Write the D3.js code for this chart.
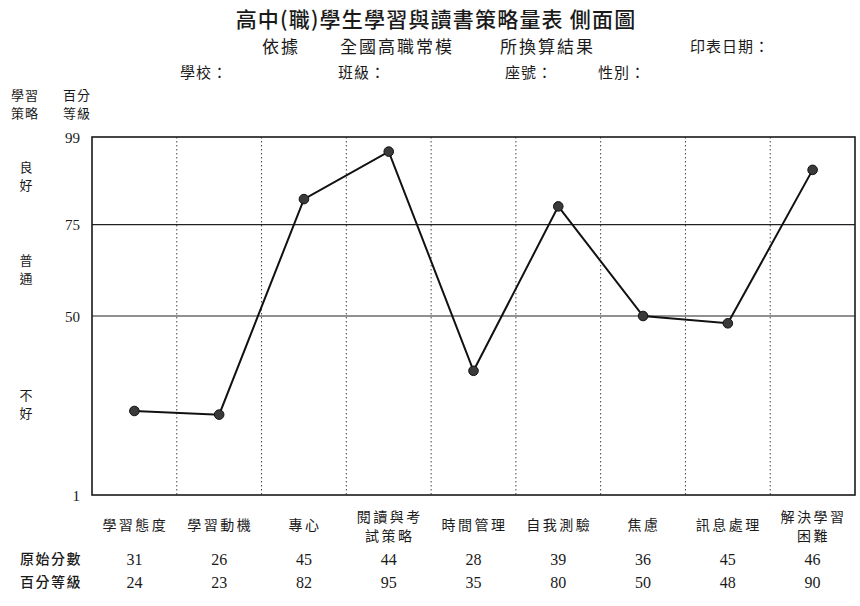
<!DOCTYPE html>
<html><head><meta charset="utf-8">
<script src="https://cdn.jsdelivr.net/npm/d3@7"></script>
<style>
body{margin:0;background:#fff;}
svg{display:block;}
text{fill:#1a1a1a;}
</style></head>
<body><svg id="c" width="860" height="606"></svg>
<script>
const categories = [["學習態度"],["學習動機"],["專心"],["閱讀與考","試策略"],["時間管理"],["自我測驗"],["焦慮"],["訊息處理"],["解決學習","困難"]];
const rawScores = [31,26,45,44,28,39,36,45,46];
const percentiles = [24,23,82,95,35,80,50,48,90];
const yTicks = [99,75,50,1];
const gridLevels = [75,50];
const bandLabels = [{t:["良","好"],v:89.5},{t:["普","通"],v:64},{t:["不","好"],v:27}];

const svg = d3.select("#c");
const cjk = "'Noto Sans CJK TC','Noto Sans CJK SC',sans-serif";
const num = "'Liberation Serif','DejaVu Serif',serif";
const L=92,R=855,T=137,B=495;
const x = d3.scaleBand().domain(d3.range(categories.length)).range([L,R]).padding(0);
const y = d3.scaleLinear().domain([1,99]).range([B,T]);

// titles
svg.append("text").attr("x",436).attr("y",27).attr("text-anchor","middle")
  .style("font-family",cjk).style("font-size","21px").style("font-weight","500").style("letter-spacing","1.2px")
  .text("高中(職)學生學習與讀書策略量表 側面圖");
[["依據",262],["全國高職常模",340],["所換算結果",500]].forEach(d=>{
  svg.append("text").attr("x",d[1]).attr("y",53).style("font-family",cjk).style("font-size","17px").style("letter-spacing","2px").text(d[0]);
});
svg.append("text").attr("x",690).attr("y",52)
  .style("font-family",cjk).style("font-size","15px").style("letter-spacing","1px").text("印表日期：");
[["學校：",180],["班級：",338],["座號：",505],["性別：",598]].forEach(d=>{
  svg.append("text").attr("x",d[1]).attr("y",78).style("font-family",cjk).style("font-size","15px").style("letter-spacing","1px").text(d[0]);
});
// left headers
[["學習",100],["策略",118]].forEach(d=>svg.append("text").attr("x",25).attr("y",d[1]).attr("text-anchor","middle")
  .style("font-family",cjk).style("font-size","13px").style("letter-spacing","1px").text(d[0]));
[["百分",100],["等級",118]].forEach(d=>svg.append("text").attr("x",77).attr("y",d[1]).attr("text-anchor","middle")
  .style("font-family",cjk).style("font-size","13px").style("letter-spacing","1px").text(d[0]));
bandLabels.forEach(b=>{
  b.t.forEach((c,i)=>svg.append("text").attr("x",26).attr("y",y(b.v)+i*18).attr("text-anchor","middle")
    .style("font-family",cjk).style("font-size","13px").text(c));
});

// grid
const g = svg.append("g");
d3.range(1,categories.length).forEach(i=>{
  g.append("line").attr("x1",x(i)).attr("x2",x(i)).attr("y1",T).attr("y2",B)
    .attr("stroke","#444").attr("stroke-width",1).attr("stroke-dasharray","1.5,2.5");
});
gridLevels.forEach(v=>g.append("line").attr("x1",L).attr("x2",R).attr("y1",y(v)).attr("y2",y(v))
  .attr("stroke","#222").attr("stroke-width",1.2));
g.append("rect").attr("x",L).attr("y",T).attr("width",R-L).attr("height",B-T)
  .attr("fill","none").attr("stroke","#1a1a1a").attr("stroke-width",1.6);

// y axis labels
const yAxis = d3.axisLeft(y).tickValues(yTicks).tickSize(0).tickPadding(0);
const ya = svg.append("g").attr("transform",`translate(${L-8},0)`).call(yAxis);
ya.select(".domain").remove();
ya.selectAll("text").attr("x",-4).attr("dy","0.35em").style("font-family",num).style("font-size","15px").style("fill","#1a1a1a");

// line + points
const cx = i=>x(i)+x.bandwidth()/2;
const line = d3.line().x((d,i)=>cx(i)).y(d=>y(d));
svg.append("path").datum(percentiles).attr("d",line).attr("fill","none").attr("stroke","#111").attr("stroke-width",2);
svg.selectAll("circle.pt").data(percentiles).join("circle").attr("class","pt")
  .attr("cx",(d,i)=>cx(i)).attr("cy",d=>y(d)).attr("r",4.8).attr("fill","#3a3a3a").attr("stroke","#111").attr("stroke-width",1);

// categories
categories.forEach((c,i)=>{
  const y0 = c.length===1 ? 530 : 522;
  c.forEach((s,j)=>svg.append("text").attr("x",cx(i)+1).attr("y",y0+j*19).attr("text-anchor","middle")
    .style("font-family",cjk).style("font-size","14px").style("letter-spacing","2.5px").text(s));
});
// rows
svg.append("text").attr("x",20).attr("y",564).style("font-family",cjk).style("font-size","14px").style("font-weight","500").style("letter-spacing","1.5px").text("原始分數");
svg.append("text").attr("x",20).attr("y",587).style("font-family",cjk).style("font-size","14px").style("font-weight","500").style("letter-spacing","1.5px").text("百分等級");
rawScores.forEach((v,i)=>svg.append("text").attr("x",cx(i)).attr("y",565).attr("text-anchor","middle")
  .style("font-family",num).style("font-size","16px").text(v));
percentiles.forEach((v,i)=>svg.append("text").attr("x",cx(i)).attr("y",588).attr("text-anchor","middle")
  .style("font-family",num).style("font-size","16px").text(v));
</script></body></html>
